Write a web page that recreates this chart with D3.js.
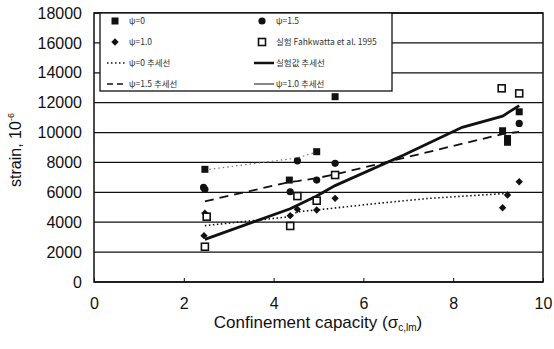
<!DOCTYPE html>
<html>
<head>
<meta charset="utf-8">
<script src="https://cdn.jsdelivr.net/npm/d3@7"></script>
<style>
  body { margin: 0; background: #fff; }
  svg { display: block; font-family: Arial, "Liberation Sans", sans-serif; }
</style>
</head>
<body>
<div id="chart"></div>
<script>
// markers
const psi0 = [[2.47, 7540], [4.35, 6820], [4.96, 8720], [5.37, 12400], [9.10, 10120], [9.21, 9600], [9.21, 9350], [9.47, 11390]];
const psi15 = [[2.44, 6330], [2.47, 6200], [4.53, 8110], [4.96, 6820], [4.37, 6040], [5.37, 7940], [9.47, 10610]];
const psi10 = [[2.45, 3100], [2.47, 4600], [4.37, 4440], [4.53, 4860], [4.96, 4820], [5.37, 5600], [9.10, 4970], [9.21, 5820], [9.47, 6710]];
const expData = [[2.47, 2360], [2.51, 4370], [4.37, 3750], [4.53, 5750], [4.96, 5440], [5.37, 7160], [9.08, 12960], [9.47, 12620]];

// trend lines
const trend0 = [[2.47, 7500], [4.53, 8300], [4.96, 8700]];
const trendExp = [[2.47, 2850], [4.37, 4900], [4.96, 5750], [5.37, 6450], [6.9, 8500], [8.2, 10350], [9.1, 11100], [9.47, 11800]];
const trend15 = [[2.47, 5400], [4.37, 6700], [4.53, 6750], [4.96, 6950], [5.37, 7200], [9.1, 9900], [9.47, 10050]];
const trend10 = [[2.47, 3770], [4.37, 4370], [4.53, 4700], [4.96, 4820], [6.37, 5280], [7.48, 5600], [9.21, 5930]];

const xTicks = [0, 2, 4, 6, 8, 10];
const yTicks = [0, 2000, 4000, 6000, 8000, 10000, 12000, 14000, 16000, 18000];

const legendItems = [
  { label: "ψ=0", kind: "square" },
  { label: "ψ=1.5", kind: "circle" },
  { label: "ψ=1.0", kind: "diamond" },
  { label: "실험 Fahkwatta et al. 1995", kind: "open" },
  { label: "ψ=0 추세선", kind: "dotted" },
  { label: "실험값 추세선", kind: "thick" },
  { label: "ψ=1.5 추세선", kind: "dashed" },
  { label: "ψ=1.0 추세선", kind: "thin" }
];

const W = 554, H = 349;
const m = { left: 94, right: 11, top: 13, bottom: 67 };
const iw = W - m.left - m.right, ih = H - m.top - m.bottom;

const svg = d3.select("#chart").append("svg").attr("width", W).attr("height", H);
const g = svg.append("g").attr("transform", `translate(${m.left},${m.top})`);

const x = d3.scaleLinear().domain([0, 10]).range([0, iw]);
const y = d3.scaleLinear().domain([0, 18000]).range([ih, 0]);

// grid
g.selectAll(".grid")
  .data(yTicks)
  .enter()
  .append("line")
  .attr("x1", 0)
  .attr("x2", iw)
  .attr("y1", (d) => y(d))
  .attr("y2", (d) => y(d))
  .attr("stroke", "#111")
  .attr("stroke-width", 1.3);

g.append("rect")
  .attr("width", iw)
  .attr("height", ih)
  .attr("fill", "none")
  .attr("stroke", "#111")
  .attr("stroke-width", 1.5);

// axes
const yAxis = d3.axisLeft(y).tickValues(yTicks).tickFormat(d3.format("d")).tickSize(0).tickPadding(12);
g.append("g").call(yAxis).call((s) => s.select(".domain").remove())
  .selectAll("text").attr("font-size", 16).attr("fill", "#111");
const xAxis = d3.axisBottom(x).tickValues(xTicks).tickSize(4).tickPadding(12);
g.append("g").attr("transform", `translate(0,${ih})`).call(xAxis)
  .call((s) => s.select(".domain").remove())
  .call((s) => s.selectAll("line").attr("y1", -4).attr("y2", 0).attr("stroke", "#111"))
  .selectAll("text").attr("font-size", 16).attr("fill", "#111");

// titles
const xt = svg.append("text")
  .attr("x", 318)
  .attr("y", 328)
  .attr("text-anchor", "middle")
  .attr("font-size", 17)
  .attr("fill", "#111");
xt.append("tspan").text("Confinement capacity (σ");
xt.append("tspan").attr("font-size", 10).attr("dy", 3).text("c,lm");
xt.append("tspan").attr("dy", -3).text(")");

const yt = svg.append("text")
  .attr("transform", "translate(21,150) rotate(-90)")
  .attr("text-anchor", "middle")
  .attr("font-size", 16)
  .attr("fill", "#111");
yt.append("tspan").text("strain, 10");
yt.append("tspan").attr("font-size", 9).attr("dy", -7).text("-6");

// lines
const line = d3.line().x((d) => x(d[0])).y((d) => y(d[1]));
g.append("path").datum(trend0).attr("d", line).attr("fill", "none")
  .attr("stroke", "#777").attr("stroke-width", 1.2).attr("stroke-dasharray", "1.5,3");
g.append("path").datum(trend10).attr("d", line).attr("fill", "none")
  .attr("stroke", "#111").attr("stroke-width", 1.6).attr("stroke-dasharray", "1.5,2.5");
g.append("path").datum(trend15).attr("d", line).attr("fill", "none")
  .attr("stroke", "#111").attr("stroke-width", 1.8).attr("stroke-dasharray", "9,6");
g.append("path").datum(trendExp).attr("d", line).attr("fill", "none")
  .attr("stroke", "#111").attr("stroke-width", 2.8);

// markers
function drawMarker(sel, kind) {
  if (kind === "square") {
    sel.append("rect").attr("x", -3.5).attr("y", -3.5).attr("width", 7).attr("height", 7).attr("fill", "#111");
  } else if (kind === "circle") {
    sel.append("circle").attr("r", 3.6).attr("fill", "#111");
  } else if (kind === "diamond") {
    sel.append("rect").attr("x", -2.6).attr("y", -2.6).attr("width", 5.2).attr("height", 5.2)
      .attr("transform", "rotate(45)").attr("fill", "#111");
  } else if (kind === "open") {
    sel.append("rect").attr("x", -3.5).attr("y", -3.5).attr("width", 7).attr("height", 7)
      .attr("fill", "#fff").attr("stroke", "#111").attr("stroke-width", 1.6);
  }
}
const series = [[psi10, "diamond"], [psi15, "circle"], [psi0, "square"], [expData, "open"]];
series.forEach(([data, kind]) => {
  g.selectAll(null).data(data).enter().append("g")
    .attr("transform", (d) => `translate(${x(d[0])},${y(d[1])})`)
    .each(function () { drawMarker(d3.select(this), kind); });
});

// legend
const lg = svg.append("g").attr("transform", "translate(100,13)");
lg.append("rect").attr("width", 292).attr("height", 78).attr("fill", "#fff")
  .attr("stroke", "#111").attr("stroke-width", 1.3);
legendItems.forEach((it, i) => {
  const col = i % 2, row = Math.floor(i / 2);
  const cx = col === 0 ? 15 : 162;
  const cy = 8 + row * 21;
  const item = lg.append("g").attr("transform", `translate(${cx},${cy})`);
  if (["square", "circle", "diamond", "open"].includes(it.kind)) {
    drawMarker(item, it.kind);
  } else {
    const l = item.append("line").attr("x1", -8).attr("x2", 12).attr("y1", 0).attr("y2", 0).attr("stroke", "#111");
    if (it.kind === "dotted") l.attr("stroke-dasharray", "1.5,2.5").attr("stroke-width", 1.3);
    if (it.kind === "dashed") l.attr("stroke-dasharray", "6,4").attr("stroke-width", 1.5);
    if (it.kind === "thick") l.attr("stroke-width", 2.5);
    if (it.kind === "thin") l.attr("stroke-width", 1);
  }
  item.append("text").attr("x", 14).attr("y", 3).attr("font-size", 8.5).attr("fill", "#333")
    .attr("font-family", "'Noto Sans CJK KR', sans-serif").text(it.label);
});
</script>
</body>
</html>
